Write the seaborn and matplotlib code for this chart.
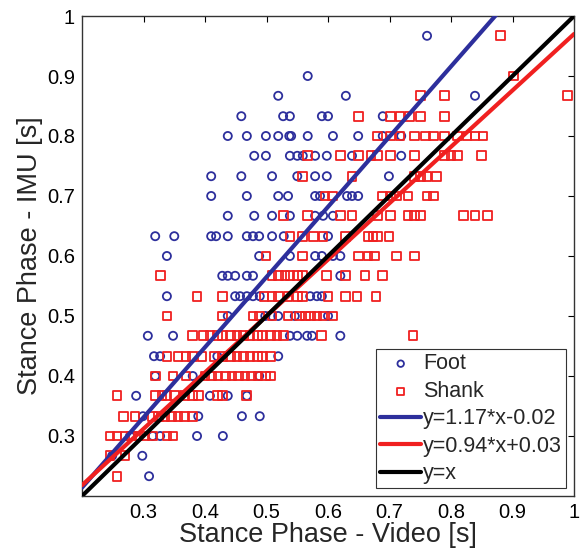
import numpy as np
import pandas as pd
import seaborn as sns
import matplotlib.pyplot as plt

sns.set_style('white')
plt.rcParams['font.family'] = ['Liberation Sans', 'DejaVu Sans']

# values, row by row (IMU value, then video values)
foot_rows = {
    0.967: [0.761],
    0.900: [0.567],
    0.867: [0.519, 0.629, 0.839],
    0.833: [0.459, 0.527, 0.538, 0.590, 0.600, 0.689],
    0.800: [0.437, 0.468, 0.499, 0.519, 0.537, 0.540, 0.567, 0.608, 0.649, 0.689, 0.719],
    0.767: [0.480, 0.499, 0.538, 0.550, 0.559, 0.579, 0.598, 0.639, 0.719],
    0.733: [0.410, 0.459, 0.509, 0.550, 0.579, 0.598, 0.699],
    0.700: [0.410, 0.468, 0.519, 0.535, 0.579, 0.587, 0.631, 0.639, 0.649],
    0.667: [0.437, 0.480, 0.509, 0.538, 0.579, 0.592, 0.608],
    0.633: [0.319, 0.350, 0.410, 0.418, 0.437, 0.468, 0.478, 0.488, 0.509, 0.528, 0.600],
    0.600: [0.338, 0.488, 0.538, 0.579, 0.590, 0.608, 0.620],
    0.567: [0.428, 0.437, 0.449, 0.468, 0.478, 0.620],
    0.533: [0.338, 0.449, 0.457, 0.468, 0.478, 0.489, 0.571, 0.582, 0.590],
    0.500: [0.437, 0.498, 0.509, 0.519, 0.546, 0.600],
    0.467: [0.307, 0.348, 0.538, 0.550, 0.566, 0.574, 0.620],
    0.433: [0.317, 0.327, 0.420, 0.519],
    0.400: [0.319, 0.380, 0.488],
    0.367: [0.288, 0.408, 0.437, 0.468],
    0.333: [0.299, 0.389, 0.460, 0.489],
    0.300: [0.278, 0.315, 0.327, 0.387, 0.429],
    0.267: [0.249, 0.298],
    0.233: [0.309],
}

shank_rows = {
    0.967: [0.880],
    0.900: [0.901],
    0.867: [0.750, 0.789, 0.990],
    0.833: [0.649, 0.701, 0.717, 0.733, 0.750, 0.789],
    0.800: [0.680, 0.701, 0.717, 0.740, 0.759, 0.771, 0.789, 0.810, 0.826, 0.839, 0.852],
    0.767: [0.567, 0.620, 0.650, 0.670, 0.681, 0.701, 0.740, 0.789, 0.800, 0.811, 0.850],
    0.733: [0.559, 0.639, 0.740, 0.750, 0.761, 0.777],
    0.700: [0.595, 0.607, 0.689, 0.701, 0.711, 0.730, 0.761, 0.771],
    0.667: [0.528, 0.567, 0.620, 0.639, 0.680, 0.701, 0.730, 0.741, 0.750, 0.820, 0.839, 0.859],
    0.633: [0.538, 0.559, 0.576, 0.592, 0.628, 0.665, 0.673, 0.681, 0.699],
    0.600: [0.499, 0.559, 0.649, 0.665, 0.676, 0.711, 0.740],
    0.567: [0.327, 0.509, 0.519, 0.530, 0.538, 0.550, 0.559, 0.598, 0.629, 0.660, 0.689],
    0.533: [0.387, 0.428, 0.496, 0.509, 0.519, 0.535, 0.550, 0.559, 0.600, 0.629, 0.647, 0.678],
    0.500: [0.338, 0.428, 0.478, 0.488, 0.509, 0.535, 0.554, 0.563, 0.571, 0.582, 0.592, 0.608],
    0.467: [0.379, 0.397, 0.408, 0.420, 0.429, 0.441, 0.452, 0.462, 0.473, 0.485, 0.494,
            0.506, 0.517, 0.527, 0.590, 0.738],
    0.433: [0.338, 0.356, 0.369, 0.380, 0.395, 0.416, 0.429, 0.441, 0.452, 0.462, 0.473,
            0.485, 0.494, 0.506],
    0.400: [0.319, 0.348, 0.369, 0.400, 0.411, 0.421, 0.433, 0.444, 0.454, 0.465, 0.476,
            0.486, 0.498, 0.507],
    0.367: [0.257, 0.319, 0.330, 0.338, 0.351, 0.367, 0.380, 0.389, 0.420, 0.429, 0.467],
    0.333: [0.267, 0.286, 0.314, 0.324, 0.335, 0.346, 0.356, 0.367, 0.379],
    0.300: [0.2455, 0.257, 0.270, 0.281, 0.291, 0.302, 0.314, 0.338, 0.348],
    0.267: [0.2455, 0.270],
    0.233: [0.257],
}

# fitted lines as given in the legend: (slope, intercept, label)
fits = [(1.17, -0.02, 'y=1.17*x-0.02'),
        (0.94, 0.03, 'y=0.94*x+0.03'),
        (1.00, 0.00, 'y=x')]

ticks = [0.3, 0.4, 0.5, 0.6, 0.7, 0.8, 0.9, 1.0]
tick_labels = ['0.3', '0.4', '0.5', '0.6', '0.7', '0.8', '0.9', '1']


def to_frame(rows, name):
    recs = [(x, y, name) for y, xs in rows.items() for x in xs]
    return pd.DataFrame(recs, columns=['video', 'imu', 'sensor'])


foot = to_frame(foot_rows, 'Foot')
shank = to_frame(shank_rows, 'Shank')

blue = '#2d2f9c'
red = '#f02020'

fig = plt.figure(figsize=(5.83, 5.48), dpi=100)
ax = fig.add_axes([0.1407, 0.0949, 0.8439, 0.8759])

sns.scatterplot(data=foot, x='video', y='imu', marker='o', s=34, facecolor='none',
                edgecolor=blue, linewidth=1.3, label='Foot', ax=ax, zorder=2)
sns.scatterplot(data=shank, x='video', y='imu', marker='s', s=40, facecolor='none',
                edgecolor=red, linewidth=1.3, label='Shank', ax=ax, zorder=2)

xs = np.array([0.2, 1.0])
for (m, b, lab), col in zip(fits, [blue, red, 'black']):
    ax.plot(xs, m * xs + b, color=col, lw=3, label=lab, zorder=3)

ax.set_xlim(0.2, 1.0)
ax.set_ylim(0.2, 1.0)
ax.set_xticks(ticks)
ax.set_xticklabels(tick_labels)
ax.set_yticks(ticks)
ax.set_yticklabels(tick_labels)
ax.tick_params(direction='in', top=True, right=True, length=4, width=0.8,
               labelsize=14.5, colors='black', pad=5)
for sp in ax.spines.values():
    sp.set_color('#333333')
    sp.set_linewidth(1.0)

ax.set_xlabel('Stance Phase - Video [s]', fontsize=19.5, labelpad=0)
ax.set_ylabel('Stance Phase - IMU [s]', fontsize=19.5, labelpad=3)

leg = ax.legend(loc='lower right', fontsize=15.5, frameon=True, fancybox=False,
                edgecolor='#333333', framealpha=1, handlelength=1.9,
                handletextpad=0.1, labelspacing=0.3, borderaxespad=0.35,
                borderpad=0.2, markerscale=0.8)
leg.get_frame().set_linewidth(0.8)

fig.savefig('out.png', dpi=100)
